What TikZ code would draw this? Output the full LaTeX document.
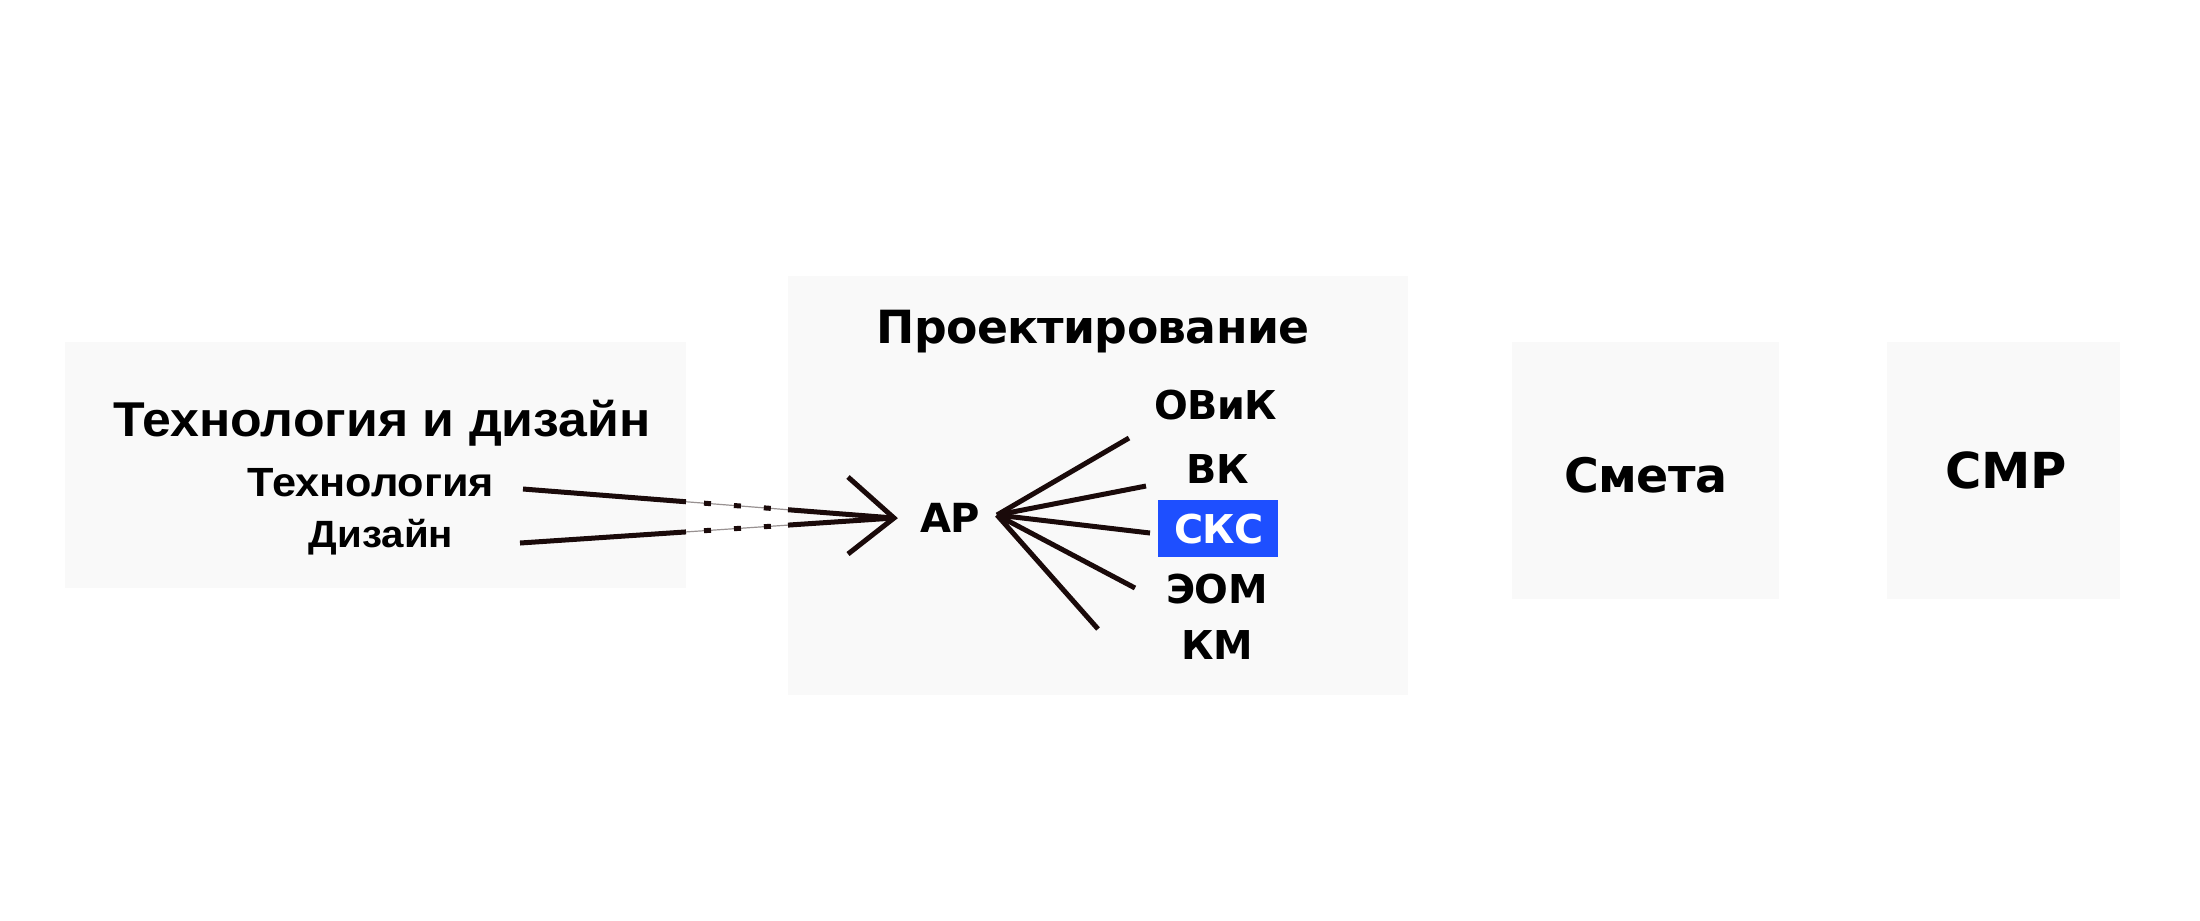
\documentclass[tikz,border=0pt]{standalone}
\usepackage{fontspec}
\usetikzlibrary{calc}
\newfontfamily\lsb[FakeStretch=1.06]{Liberation Sans}
\newfontfamily\dvs[LetterSpace=-1.5]{DejaVu Sans}
\definecolor{boxfill}{HTML}{F9F9F9}
\definecolor{ink}{HTML}{1A0A0A}
\definecolor{hl}{HTML}{1E4FFF}
\tikzset{
  panel/.style={fill=boxfill, draw=none},
  lbl/.style={inner sep=0pt, anchor=base, text=black},
  wire/.style={draw=ink, line width=0.05cm},
  gapdash/.style={draw=ink, line width=0.05cm, dash pattern=on 0.07cm off 0.23cm, dash phase=0.12cm},
  gapthin/.style={draw=ink!45, line width=0.012cm},
  fl/.style={font=\lsb\bfseries\fontsize{#1}{#1}\selectfont},
  fd/.style={font=\dvs\bfseries\fontsize{#1}{#1}\selectfont}
}
\begin{document}
\begin{tikzpicture}[x=0.01cm,y=-0.01cm]
\fill[white] (0,0) rectangle (2200,920);
\useasboundingbox (0,0) rectangle (2200,920);
% panels
\fill[panel] (65,342) rectangle (686,588);
\fill[panel] (788,276) rectangle (1408,695);
\fill[panel] (1512,342) rectangle (1779,599);
\fill[panel] (1887,342) rectangle (2120,599);
% left panel texts
\node[lbl, fl=13.9pt] (tdtitle) at (382,436) {Технология и дизайн};
\node[lbl, fl=11.6pt] (tech) at (371,496) {Технология};
\node[lbl, fl=10.8pt] (des) at (381,547) {Дизайн};
% middle panel texts
\node[lbl, fd=13.0pt] (proj) at (1093,343) {Проектирование};
\node[lbl, fd=11.4pt] (ar) at (950,532) {АР};
\node[lbl, fd=11.3pt] (ovik) at (1216,419) {ОВиК};
\node[lbl, fd=11.3pt] (vk) at (1218,483) {ВК};
\fill[hl] (1158,500) rectangle (1278,557);
\node[lbl, fd=11.3pt, text=white] (sks) at (1219,543) {СКС};
\node[lbl, fd=11.3pt] (eom) at (1217,603) {ЭОМ};
\node[lbl, fd=11.3pt] (km) at (1217,659) {КМ};
% right panels
\node[lbl, fd=13.5pt] (smeta) at (1646,492) {Смета};
\node[lbl, fd=14.1pt] (smr) at (2006,488) {СМР};
% connector coordinates
\coordinate (tip) at (894,518);
\coordinate (ts) at (523,489);
\coordinate (ds) at (520,543);
\coordinate (tu1) at ($(ts)!0.4394!(tip)$);
\coordinate (tu2) at ($(ts)!0.7143!(tip)$);
\coordinate (du1) at ($(ds)!0.4439!(tip)$);
\coordinate (du2) at ($(ds)!0.7166!(tip)$);
\coordinate (ch1) at (848,477);
\coordinate (ch2) at (848,554);
% lines into AR
\draw[wire] (ts) -- (tu1);
\draw[gapthin] (tu1) -- (tu2);
\draw[gapdash] (tu1) -- (tu2);
\draw[wire] (tu2) -- (tip);
\draw[wire] (ds) -- (du1);
\draw[gapthin] (du1) -- (du2);
\draw[gapdash] (du1) -- (du2);
\draw[wire] (du2) -- (tip);
\draw[wire, line join=miter] (ch1) -- (tip) -- (ch2);
% fan out of AR
\coordinate (fan) at (997,515);
\coordinate (f1) at (1129,438);
\coordinate (f2) at (1146,486);
\coordinate (f3) at (1150,533);
\coordinate (f4) at (1135,588);
\coordinate (f5) at (1098,629);
\foreach \e in {f1,f2,f3,f4,f5} \draw[wire] (fan) -- (\e);
\end{tikzpicture}
\end{document}
